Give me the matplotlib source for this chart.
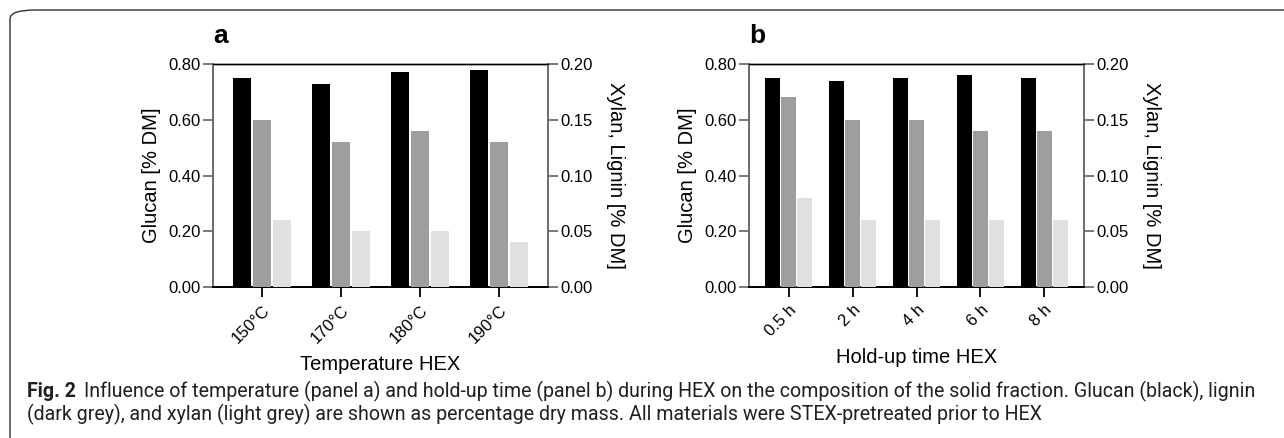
import matplotlib
matplotlib.use("Agg")
import matplotlib.pyplot as plt
import numpy as np
from matplotlib.patches import FancyBboxPatch

plt.rcParams['font.family'] = ['Liberation Sans', 'DejaVu Sans']

# ---- data ----
temp_labels = ["150°C", "170°C", "180°C", "190°C"]
temp_glucan = [0.75, 0.73, 0.77, 0.78]
temp_lignin = [0.150, 0.130, 0.140, 0.130]
temp_xylan = [0.060, 0.050, 0.050, 0.040]

time_labels = ["0.5 h", "2 h", "4 h", "6 h", "8 h"]
time_glucan = [0.75, 0.74, 0.75, 0.76, 0.75]
time_lignin = [0.170, 0.150, 0.150, 0.140, 0.140]
time_xylan = [0.080, 0.060, 0.060, 0.060, 0.060]

c_glucan = "#000000"
c_lignin = "#9d9e9e"
c_xylan = "#dfe0e0"
spine_grey = "#6e6e6e"

W, H = 1284, 438
fig = plt.figure(figsize=(W / 100, H / 100), dpi=100)


def panel(rect, labels, glucan, lignin, xylan, letter, xlabel, xlab_y):
    ax = fig.add_axes(rect)
    ax2 = ax.twinx()
    x = np.arange(len(labels))
    w = 0.23
    ax.bar(x - 0.25, glucan, w, color=c_glucan, zorder=3)
    ax2.bar(x, lignin, w, color=c_lignin, zorder=3)
    ax2.bar(x + 0.25, xylan, w, color=c_xylan, zorder=3)
    ax.set_xlim(-0.62, len(labels) - 1 + 0.62)
    ax.set_ylim(0, 0.8)
    ax2.set_ylim(0, 0.2)
    ax.set_yticks(np.arange(0, 0.81, 0.2))
    ax.set_yticklabels(["%.2f" % v for v in np.arange(0, 0.81, 0.2)])
    ax2.set_yticks(np.arange(0, 0.201, 0.05))
    ax2.set_yticklabels(["%.2f" % v for v in np.arange(0, 0.201, 0.05)])
    ax.set_xticks(x)
    ax.set_xticklabels(labels, rotation=45, ha="right", rotation_mode="anchor")

    for a in (ax, ax2):
        a.tick_params(axis="y", length=7, width=1.3, color=spine_grey,
                      labelsize=12, pad=2)
        a.spines["top"].set_color("black")
        a.spines["top"].set_linewidth(1.0)
        a.spines["bottom"].set_color("black")
        a.spines["bottom"].set_linewidth(1.4)
        a.spines["left"].set_color(spine_grey)
        a.spines["left"].set_linewidth(1.4)
        a.spines["right"].set_color(spine_grey)
        a.spines["right"].set_linewidth(1.4)
    ax.tick_params(axis="x", length=7, width=1.3, color="black",
                   labelsize=12, pad=4)

    ax.set_ylabel("Glucan [% DM]", fontsize=14.5, labelpad=5)
    ax2.set_ylabel("Xylan, Lignin [% DM]", fontsize=14.5, rotation=-90,
                   labelpad=23)
    ax.set_xlabel(xlabel, fontsize=14.5)
    ax.xaxis.set_label_coords(0.5, xlab_y)
    ax.text(0.0, 1.07, letter, transform=ax.transAxes, fontsize=19,
            fontweight="bold", ha="left", va="bottom")
    return ax


panel([213 / W, 1 - 287 / H, 335 / W, 223 / H], temp_labels,
      temp_glucan, temp_lignin, temp_xylan, "a", "Temperature HEX", -0.305)
panel([749 / W, 1 - 287 / H, 335 / W, 223 / H], time_labels,
      time_glucan, time_lignin, time_xylan, "b", "Hold-up time HEX", -0.275)

# rounded frame (open to the right and bottom)
frame = FancyBboxPatch((10 / W, -0.2), 1.2, 1.2 - 10 / H,
                       boxstyle="round,pad=0,rounding_size=0.02",
                       transform=fig.transFigure, fill=False,
                       edgecolor="#333333", linewidth=1.0)
fig.patches.append(frame)

# caption
cap_font = ['Liberation Sans Narrow', 'Roboto', 'DejaVu Sans']
line1 = ("Influence of temperature (panel a) and hold-up time (panel b) during "
         "HEX on the composition of the solid fraction. Glucan (black), lignin")
line2 = ("(dark grey), and xylan (light grey) are shown as percentage dry mass. "
         "All materials were STEX-pretreated prior to HEX")

renderer = fig.canvas.get_renderer()
fs = 12
t_bold = fig.text(27 / W, 1 - 397 / H, "Fig. 2", fontsize=fs, family=cap_font,
                  fontweight="bold", color="#231f20", va="baseline")
t1 = fig.text(0, 1 - 397 / H, line1, fontsize=fs, family=cap_font,
              color="#231f20", va="baseline")
# fit caption width to reference (ends near x=1254)
bw = t_bold.get_window_extent(renderer).width
lw = t1.get_window_extent(renderer).width
scale = (1254 - 27) / (bw + 8 + lw)
fs = fs * scale
t_bold.set_fontsize(fs)
t1.set_fontsize(fs)
bw = t_bold.get_window_extent(renderer).width
t1.set_x((27 + bw + 8) / W)
fig.text(27 / W, 1 - 420 / H, line2, fontsize=fs, family=cap_font,
         color="#231f20", va="baseline")

fig.savefig("out.png", dpi=100)
